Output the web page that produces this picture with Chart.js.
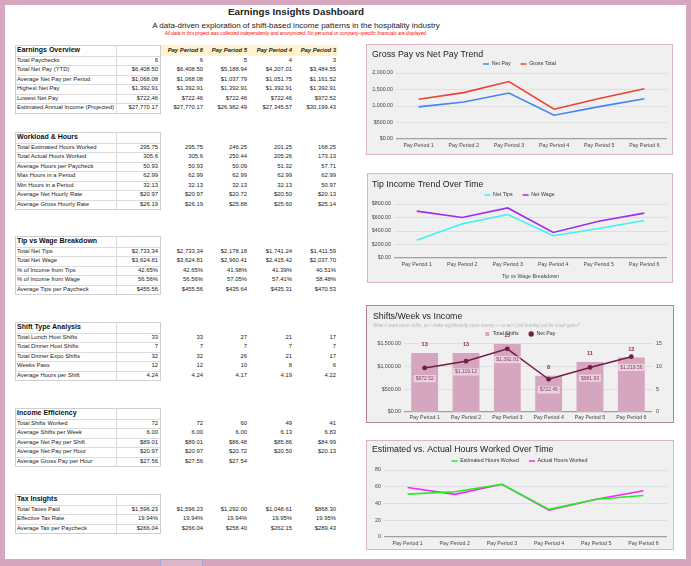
<!DOCTYPE html>
<html>
<head>
<meta charset="utf-8">
<script src="https://cdn.jsdelivr.net/npm/chart.js@4.4.1/dist/chart.umd.min.js"></script>
<style>
html, body { margin: 0; padding: 0; width: 691px; height: 566px; overflow: hidden; background: #d5a6bd; font-family: "Liberation Sans", Arial, sans-serif; }
#sheet { position: absolute; left: 5px; top: 5px; width: 681px; height: 554px; background: #fff; }
.t { position: absolute; white-space: nowrap; color: #222; }
.box { position: absolute; box-sizing: border-box; border: 1px solid #dcb3c7; background: #f0f0f0; }
.box canvas { position: absolute; left: 0; top: 0; }
.c { position: absolute; white-space: nowrap; font-size: 5.9px; color: #222; }
.ln { position: absolute; background: #dcdcdc; }
</style>
</head>
<body>
<div id="sheet"></div>
<div class="t" style="left:196px;width:200px;top:6px;text-align:center;font-size:9.8px;font-weight:bold;">Earnings Insights Dashboard</div>
<div class="t" style="left:96px;width:400px;top:21px;text-align:center;font-size:8px;">A data-driven exploration of shift-based income patterns in the hospitality industry</div>
<div class="t" style="left:96px;width:400px;top:31px;text-align:center;font-size:4.7px;font-style:italic;color:#ff0000;">All data in this project was collected independently and anonymized. No personal or company-specific financials are displayed.</div>
<div style="position:absolute;left:160px;top:559px;width:43px;height:7px;box-sizing:border-box;border:1px solid #9fa8da;border-bottom:none;background:#dbb6c9;"></div>
<div id="table"></div>

<div class="box" style="left:366px;top:44px;width:307px;height:111px;"><canvas id="payChart" width="305" height="109"></canvas></div>
<div class="box" style="left:367px;top:173px;width:306px;height:110px;"><canvas id="tipChart" width="304" height="108"></canvas></div>
<div class="box" style="left:366px;top:305px;width:308px;height:118px;border-color:#b08199;"><canvas id="shiftChart" width="306" height="116"></canvas></div>
<div class="box" style="left:366px;top:440px;width:308px;height:110px;"><canvas id="hoursChart" width="306" height="108"></canvas></div>

<script>
// ---- chart data ----
var periods = ["Pay Period 1", "Pay Period 2", "Pay Period 3", "Pay Period 4", "Pay Period 5", "Pay Period 6"];
var netPay = [972.52, 1119.12, 1392.91, 722.46, 981.93, 1219.56];
var grossPay = [1205.00, 1405.00, 1742.85, 902.77, 1225.32, 1523.79];
var netTips = [262.00, 506.00, 643.59, 329.65, 436.94, 555.16];
var netWage = [695.00, 601.00, 741.70, 377.72, 544.99, 664.40];
var totalShifts = [13, 13, 15, 8, 11, 12];
var estHours = [51.25, 54.00, 63.00, 33.00, 45.00, 49.50];
var actHours = [59.17, 50.97, 62.99, 32.13, 45.18, 55.16];

// ---- table data ----
var periodHeads = ["Pay Period 6", "Pay Period 5", "Pay Period 4", "Pay Period 3"];

var earningsRows = ["Total Paychecks", "Total Net Pay (YTD)", "Average Net Pay per Period", "Highest Net Pay", "Lowest Net Pay", "Estimated Annual Income (Projected)"];
var earningsVals = [
    ["6", "6", "5", "4", "3"],
    ["$6,408.50", "$6,408.50", "$5,188.94", "$4,207.01", "$3,484.55"],
    ["$1,068.08", "$1,068.08", "$1,037.79", "$1,051.75", "$1,161.52"],
    ["$1,392.91", "$1,392.91", "$1,392.91", "$1,392.91", "$1,392.91"],
    ["$722.46", "$722.46", "$722.46", "$722.46", "$972.52"],
    ["$27,770.17", "$27,770.17", "$26,982.49", "$27,345.57", "$30,199.43"]
];
var workloadRows = ["Total Estimated Hours Worked", "Total Actual Hours Worked", "Average Hours per Paycheck", "Max Hours in a Period", "Min Hours in a Period", "Average Net Hourly Rate", "Average Gross Hourly Rate"];
var workloadVals = [
    ["295.75", "295.75", "246.25", "201.25", "168.25"],
    ["305.6", "305.6", "250.44", "205.26", "173.13"],
    ["50.93", "50.93", "50.09", "51.32", "57.71"],
    ["62.99", "62.99", "62.99", "62.99", "62.99"],
    ["32.13", "32.13", "32.13", "32.13", "50.97"],
    ["$20.97", "$20.97", "$20.72", "$20.50", "$20.13"],
    ["$26.19", "$26.19", "$25.88", "$25.60", "$25.14"]
];
var tipRows = ["Total Net Tips", "Total Net Wage", "% of Income from Tips", "% of Income from Wage", "Average Tips per Paycheck"];
var tipVals = [
    ["$2,733.34", "$2,733.34", "$2,178.18", "$1,741.24", "$1,411.59"],
    ["$3,624.81", "$3,624.81", "$2,960.41", "$2,415.42", "$2,037.70"],
    ["42.65%", "42.65%", "41.98%", "41.39%", "40.51%"],
    ["56.56%", "56.56%", "57.05%", "57.41%", "58.48%"],
    ["$455.56", "$455.56", "$435.64", "$435.31", "$470.53"]
];
var shiftRows = ["Total Lunch Host Shifts", "Total Dinner Host Shifts", "Total Dinner Expo Shifts", "Weeks Pass", "Average Hours per Shift"];
var shiftVals = [
    ["33", "33", "27", "21", "17"],
    ["7", "7", "7", "7", "7"],
    ["32", "32", "26", "21", "17"],
    ["12", "12", "10", "8", "6"],
    ["4.24", "4.24", "4.17", "4.19", "4.22"]
];
var effRows = ["Total Shifts Worked", "Average Shifts per Week", "Average Net Pay per Shift", "Average Net Pay per Hour", "Average Gross Pay per Hour"];
var effVals = [
    ["72", "72", "60", "49", "41"],
    ["6.00", "6.00", "6.00", "6.13", "6.83"],
    ["$89.01", "$89.01", "$86.48", "$85.86", "$84.99"],
    ["$20.97", "$20.97", "$20.72", "$20.50", "$20.13"],
    ["$27.56", "$27.56", "$27.54", "", ""]
];
var taxRows = ["Total Taxes Paid", "Effective Tax Rate", "Average Tax per Paycheck"];
var taxVals = [
    ["$1,596.23", "$1,596.23", "$1,292.00", "$1,048.61", "$868.30"],
    ["19.94%", "19.94%", "19.94%", "19.95%", "19.95%"],
    ["$266.04", "$266.04", "$258.40", "$262.15", "$289.43"]
];

// ---- table layout ----
var colRight = [158, 203, 247, 292, 336];
var table = document.getElementById('table');

function put(cls, x, y, w, h, text, css) {
    var d = document.createElement('div');
    d.className = cls;
    d.style.left = x + 'px';
    d.style.top = y + 'px';
    d.style.width = w + 'px';
    d.style.height = h + 'px';
    d.style.lineHeight = h + 'px';
    if (text) d.textContent = text;
    if (css) d.style.cssText += css;
    table.appendChild(d);
    return d;
}

function drawSection(title, top, rows, vals) {
    var hh = 10.5, rh = 9.5;
    var height = hh + rh * rows.length;
    put('ln', 15, top, 145, 1, '', 'background:#cfcfcf');
    put('ln', 15, top + height, 145, 1, '', 'background:#cfcfcf');
    put('ln', 15, top, 1, height, '', 'background:#cfcfcf');
    put('ln', 160, top, 1, height + 1, '', 'background:#cfcfcf');
    put('ln', 116, top, 1, height, '');
    put('c', 17, top, 98, hh, title, 'font-size:7px;font-weight:bold;color:#111');
    for (var i = 0; i < rows.length; i++) {
        var y = top + hh + i * rh;
        put('ln', 15, y, 145, 1, '');
        put('c', 17, y, 98, rh, rows[i]);
        for (var j = 0; j < vals[i].length; j++) {
            put('c', colRight[j] - 60, y, 60, rh, vals[i][j], 'text-align:right');
        }
    }
}

put('c', 160, 45, 178, 10.5, '', 'background:#fff2cc');
for (var k = 0; k < periodHeads.length; k++) {
    put('c', colRight[k + 1] - 60, 45, 60, 10.5, periodHeads[k], 'text-align:right;font-weight:bold;font-style:italic;font-size:5.9px');
}
drawSection("Earnings Overview", 45, earningsRows, earningsVals);
drawSection("Workload & Hours", 132, workloadRows, workloadVals);
drawSection("Tip vs Wage Breakdown", 236, tipRows, tipVals);
drawSection("Shift Type Analysis", 322, shiftRows, shiftVals);
drawSection("Income Efficiency", 408, effRows, effVals);
drawSection("Tax Insights", 494, taxRows, taxVals);

// ---- charts ----
Chart.defaults.font.family = '"Liberation Sans", Arial, sans-serif';
Chart.defaults.color = '#444';
Chart.defaults.animation = false;
Chart.defaults.events = [];
Chart.defaults.plugins.tooltip.enabled = false;

function money(v) {
    return '$' + Number(v).toLocaleString('en-US', {minimumFractionDigits: 2, maximumFractionDigits: 2});
}
function gridColor(c) { return c.tick.value === 0 ? '#a0a0a0' : '#dadada'; }
function gridWidth(c) { return c.tick.value === 0 ? 1.2 : 0.8; }

function yAxis(max, step, fmt, width) {
    return {
        min: 0, max: max,
        ticks: {stepSize: step, padding: 3, font: {size: 5.3}, color: '#444', callback: fmt},
        grid: {color: gridColor, lineWidth: gridWidth, drawTicks: false},
        border: {display: false},
        afterFit: function (s) { s.width = width; }
    };
}
function xAxis(height, pad) {
    return {
        offset: true,
        ticks: {padding: pad, font: {size: 5.3}, color: '#444', autoSkip: false, maxRotation: 0},
        grid: {display: false, drawTicks: false},
        border: {display: false},
        afterFit: function (s) { s.height = height; }
    };
}
function titleOpts(text, top, bottom) {
    return {display: true, text: text, align: 'start', color: '#222', font: {size: 8.8, weight: 'normal'}, padding: {top: top, bottom: bottom}};
}
function legendOpts(maxH, lineStyle) {
    var labels = {usePointStyle: true, padding: 10, font: {size: 5.3}, color: '#333', boxHeight: 5.3};
    if (lineStyle) { labels.pointStyle = 'line'; labels.pointStyleWidth = 6; }
    else { labels.boxHeight = 3.8; }
    return {display: true, maxHeight: maxH, labels: labels};
}
function lineSet(label, data, color) {
    return {label: label, data: data, borderColor: color, backgroundColor: color, borderWidth: 1.6, pointRadius: 0, tension: 0};
}

new Chart(document.getElementById('payChart'), {
    type: 'line',
    data: {
        labels: periods,
        datasets: [lineSet('Net Pay', netPay, '#4285f4'), lineSet('Gross Total', grossPay, '#ea4335')]
    },
    options: {
        responsive: false,
        layout: {padding: {left: 5, right: 5, top: 0, bottom: 0}},
        plugins: {title: titleOpts('Gross Pay vs Net Pay Trend', 4.7, -8.9), legend: legendOpts(21.65, true)},
        scales: {x: xAxis(15, 3), y: yAxis(2000, 500, money, 24)}
    }
});

var tipX = xAxis(24, 3);
tipX.title = {display: true, text: 'Tip vs Wage Breakdown', color: '#444', font: {size: 5.3}, padding: {top: 0, bottom: 1.8}};
new Chart(document.getElementById('tipChart'), {
    type: 'line',
    data: {
        labels: periods,
        datasets: [lineSet('Net Tips', netTips, '#3ff3f3'), lineSet('Net Wage', netWage, '#9d2cf0')]
    },
    options: {
        responsive: false,
        layout: {padding: {left: 4, right: 5, top: 0, bottom: 0}},
        plugins: {title: titleOpts('Tip Income Trend Over Time', 5.7, -7.9), legend: legendOpts(21.65, true)},
        scales: {x: tipX, y: yAxis(800, 200, money, 22)}
    }
});

var shiftLabels = {
    id: 'shiftLabels',
    afterDatasetsDraw: function (chart) {
        var ctx = chart.ctx;
        var bars = chart.getDatasetMeta(0).data;
        var pts = chart.getDatasetMeta(1).data;
        var barVals = chart.data.datasets[0].data;
        var payVals = chart.data.datasets[1].data;
        ctx.save();
        ctx.textAlign = 'center';
        ctx.textBaseline = 'middle';
        ctx.font = 'bold 5.6px "Liberation Sans", Arial, sans-serif';
        ctx.fillStyle = '#8e2a5c';
        bars.forEach(function (b, i) { ctx.fillText(String(barVals[i]), b.x, b.y - 8.5); });
        ctx.font = '5px "Liberation Sans", Arial, sans-serif';
        pts.forEach(function (p, i) {
            var txt = money(payVals[i]);
            var w = ctx.measureText(txt).width + 4;
            var cy = p.y + 10.7;
            ctx.fillStyle = 'rgba(255,255,255,0.5)';
            ctx.fillRect(p.x - w / 2, cy - 3.6, w, 7.2);
            ctx.fillStyle = '#8e3a64';
            ctx.fillText(txt, p.x, cy);
        });
        ctx.restore();
    }
};

var shiftY = yAxis(1500, 500, money, 31);
var shiftY1 = {
    position: 'right', min: 0, max: 15,
    ticks: {stepSize: 5, padding: 4, font: {size: 5.3}, color: '#444'},
    grid: {display: false, drawTicks: false},
    border: {display: false},
    afterFit: function (s) { s.width = 15; }
};
var shiftLegend = legendOpts(22.65, false);
shiftLegend.labels.sort = function (a, b) { return a.datasetIndex - b.datasetIndex; };
new Chart(document.getElementById('shiftChart'), {
    type: 'bar',
    data: {
        labels: periods,
        datasets: [
            {type: 'bar', label: 'Total Shifts', data: totalShifts, yAxisID: 'y1', backgroundColor: '#d5a6bd', pointStyle: 'rect',
                barPercentage: 0.65, categoryPercentage: 1.0, order: 1},
            {type: 'line', label: 'Net Pay', data: netPay, yAxisID: 'y', borderColor: '#741b47', backgroundColor: '#741b47',
                borderWidth: 1.5, pointRadius: 2.4, pointBorderWidth: 0, pointStyle: 'circle', tension: 0, order: 0}
        ]
    },
    options: {
        responsive: false,
        layout: {padding: {left: 6, right: 6, top: 0, bottom: 0}},
        plugins: {
            title: titleOpts('Shifts/Week vs Income', 5.7, -6.98),
            subtitle: {display: true, text: 'When I work more shifts, do I make significantly more money \u2014 or am I just burning out for small gains?',
                align: 'start', color: '#b5b5b5', font: {size: 4.5, style: 'italic'}, padding: {top: 8, bottom: -7.35}},
            legend: shiftLegend
        },
        scales: {x: xAxis(10, 2.5), y: shiftY, y1: shiftY1}
    },
    plugins: [shiftLabels]
});

new Chart(document.getElementById('hoursChart'), {
    type: 'line',
    data: {
        labels: periods,
        datasets: [lineSet('Estimated Hours Worked', estHours, '#22ee22'), lineSet('Actual Hours Worked', actHours, '#ff22ff')]
    },
    options: {
        responsive: false,
        layout: {padding: {left: 5, right: 6, top: 0, bottom: 0}},
        plugins: {title: titleOpts('Estimated vs. Actual Hours Worked Over Time', 3.7, -6.9), legend: legendOpts(21.65, true)},
        scales: {x: xAxis(12, 3), y: yAxis(80, 20, function (v) { return v; }, 12)}
    }
});
</script>
</body>
</html>
